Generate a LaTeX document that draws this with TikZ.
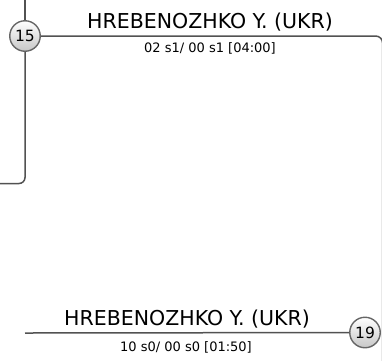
\documentclass[tikz,border=0pt]{standalone}
\usepackage{fontspec}
\setmainfont{DejaVu Sans}
\begin{document}
\begin{tikzpicture}[x=1pt,y=-1pt,
  conn/.style={draw=black!68, line width=1.5pt},
  seed/.style={circle, draw=black!60, line width=1.4pt, top color=white, bottom color=black!22,
    minimum size=30.5pt, inner sep=0pt, font=\fontsize{15.5}{15.5}\selectfont},
  player/.style={anchor=base, inner sep=0pt, font=\fontsize{20.5}{20.5}\selectfont},
  score/.style={anchor=base, inner sep=0pt, font=\fontsize{13}{13}\selectfont}]
\useasboundingbox (0,0) rectangle (382,360);
\clip (0,0) rectangle (382,360);
% top match
\coordinate (topin) at (25,-5);
\coordinate (leftcorner) at (25,183.5);
\coordinate (leftout) at (-5,183.5);
\coordinate (rightcorner) at (382.6,36);
\coordinate (rightout) at (382.6,380);
\node[seed] (s15) at (25,36) {15};
\draw[conn] (topin) -- (s15);
\draw[conn, rounded corners=6pt] (s15) -- (leftcorner) -- (leftout);
\draw[conn, rounded corners=7pt] (s15) -- (rightcorner) -- (rightout);
\node[player] (p1) at (210,28) {HREBENOZHKO Y. (UKR)};
\node[score] (r1) at (210,52) {02 s1/ 00 s1 [04:00]};
% bottom match
\coordinate (botin) at (25,333);
\node[seed] (s19) at (365,332.5) {19};
\draw[conn] (botin) -- (s19);
\node[player] (p2) at (187,325) {HREBENOZHKO Y. (UKR)};
\node[score] (r2) at (186,351) {10 s0/ 00 s0 [01:50]};
\end{tikzpicture}
\end{document}
